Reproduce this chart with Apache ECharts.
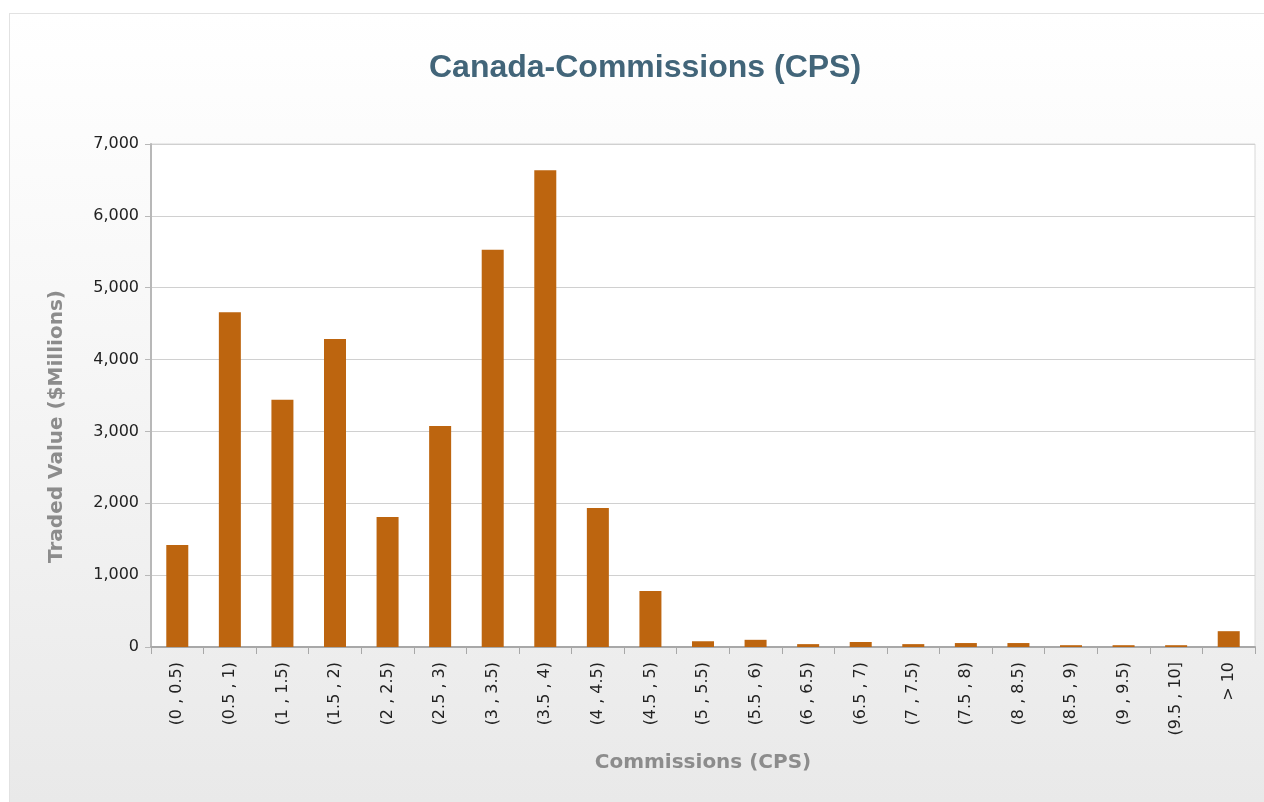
<!DOCTYPE html>
<html>
<head>
<meta charset="utf-8">
<script src="https://cdn.jsdelivr.net/npm/echarts@6/dist/echarts.min.js"></script>
<style>
  html, body { margin: 0; padding: 0; background: #fff; }
  #panel {
    position: absolute; left: 9px; top: 13px;
    width: 1254px; height: 788px;
    border: 1px solid #e2e2e2; border-right: none; border-bottom: none;
    background: linear-gradient(to bottom, #ffffff 0%, #f7f7f7 40%, #e9e9e9 100%);
  }
  #chart { width: 1254px; height: 788px; }
</style>
</head>
<body>
<div id="panel"><div id="chart"></div></div>
<script>
const categories = [
  "(0 , 0.5)", "(0.5 , 1)", "(1 , 1.5)", "(1.5 , 2)", "(2 , 2.5)", "(2.5 , 3)",
  "(3 , 3.5)", "(3.5 , 4)", "(4 , 4.5)", "(4.5 , 5)", "(5 , 5.5)", "(5.5 , 6)",
  "(6 , 6.5)", "(6.5 , 7)", "(7 , 7.5)", "(7.5 , 8)", "(8 , 8.5)", "(8.5 , 9)",
  "(9 , 9.5)", "(9.5 , 10]", "> 10"
];
const tradedValue = [
  1420, 4660, 3440, 4285, 1810, 3075, 5530, 6635, 1935, 780, 80,
  100, 40, 70, 40, 55, 55, 25, 25, 25, 220
];
const yMin = 0, yMax = 7000, yStep = 1000;

const chart = echarts.init(document.getElementById("chart"));
const axisFont = { color: "#222", fontSize: 16, fontFamily: "DejaVu Sans" };
const nameFont = { color: "#8c8c8c", fontSize: 20, fontWeight: "bold", fontFamily: "DejaVu Sans" };

chart.setOption({
  backgroundColor: "transparent",
  animation: false,
  title: {
    text: "Canada-Commissions (CPS)",
    left: 414,
    top: 33,
    textStyle: { color: "#426579", fontSize: 32, fontWeight: "bold", fontFamily: "Liberation Sans" }
  },
  grid: {
    left: 141, right: 9, top: 130, bottom: 155,
    show: true, backgroundColor: "#fff", borderColor: "#d8d8d8", borderWidth: 1
  },
  xAxis: {
    type: "category",
    data: categories,
    name: "Commissions (CPS)",
    nameLocation: "middle",
    nameGap: 106,
    nameTextStyle: nameFont,
    axisLine: { lineStyle: { color: "#a8a8a8", width: 2 } },
    axisTick: { show: true, length: 7, lineStyle: { color: "#a8a8a8" } },
    axisLabel: Object.assign({ rotate: 90, interval: 0, margin: 15 }, axisFont)
  },
  yAxis: {
    type: "value",
    min: yMin, max: yMax, interval: yStep,
    name: "Traded Value ($Millions)",
    nameLocation: "middle",
    nameGap: 84,
    nameTextStyle: Object.assign({ padding: [0, 62, 0, 0] }, nameFont),
    axisLine: { show: true, lineStyle: { color: "#b8b8b8", width: 2 } },
    axisTick: { show: true, length: 6, lineStyle: { color: "#b8b8b8" } },
    splitLine: { lineStyle: { color: "#d0d0d0" } },
    axisLabel: Object.assign({
      margin: 12,
      formatter: v => v.toLocaleString("en-US")
    }, axisFont)
  },
  series: [{
    type: "bar",
    data: tradedValue,
    barWidth: 22,
    itemStyle: { color: "#bd650f" }
  }]
});
</script>
</body>
</html>
